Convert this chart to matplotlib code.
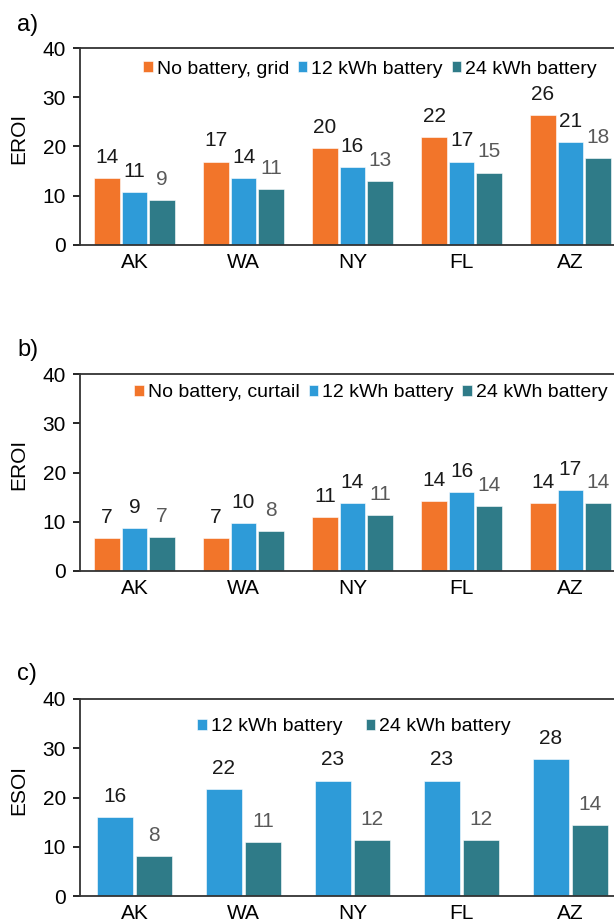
import numpy as np
import matplotlib
matplotlib.use("Agg")
import matplotlib.pyplot as plt
from matplotlib.patches import Patch

plt.rcParams['font.family'] = ['Liberation Sans', 'DejaVu Sans']

# data
states = ['AK', 'WA', 'NY', 'FL', 'AZ']

# a) EROI, no battery with grid
a_grid = [13.6, 16.9, 19.7, 21.9, 26.4]
a_12 = [10.8, 13.6, 15.8, 16.9, 20.9]
a_24 = [9.1, 11.3, 13.0, 14.7, 17.6]
a_grid_lab = ['14', '17', '20', '22', '26']
a_12_lab = ['11', '14', '16', '17', '21']
a_24_lab = ['9', '11', '13', '15', '18']

# b) EROI, no battery with curtailment
b_curt = [6.6, 6.6, 11.0, 14.2, 13.8]
b_12 = [8.7, 9.7, 13.8, 16.0, 16.4]
b_24 = [6.9, 8.1, 11.4, 13.2, 13.8]
b_curt_lab = ['7', '7', '11', '14', '14']
b_12_lab = ['9', '10', '14', '16', '17']
b_24_lab = ['7', '8', '11', '14', '14']

# c) ESOI
c_12 = [16.0, 21.7, 23.4, 23.4, 27.8]
c_24 = [8.1, 11.0, 11.4, 11.4, 14.4]
c_12_lab = ['16', '22', '23', '23', '28']
c_24_lab = ['8', '11', '12', '12', '14']

orange = '#F2752A'
blue = '#2E9BD8'
teal = '#2F7B88'
dark = '#1a1a1a'
grey = '#595959'

fig = plt.figure(figsize=(6.14, 9.22), dpi=100)

left, width, height = 80/614, 545/614, 197/922
tops = [48, 374, 699]
axes = [fig.add_axes([left, 1 - (t + 197)/922, width, height]) for t in tops]

x = np.arange(len(states))


def draw(ax, series, labels, colors, lab_colors, bw, step):
    n = len(series)
    offs = (np.arange(n) - (n - 1)/2) * step
    for vals, labs, col, lc, off in zip(series, labels, colors, lab_colors, offs):
        bars = ax.bar(x + off, vals, bw, color=col, edgecolor='white', linewidth=0.4)
        for b, t in zip(bars, labs):
            ax.annotate(t, (b.get_x() + b.get_width()/2, b.get_height()),
                        xytext=(0, 11), textcoords='offset points',
                        ha='center', va='baseline', fontsize=15, color=lc)
    ax.set_xlim(-0.5, len(states) - 0.5)
    ax.set_ylim(0, 40)
    ax.set_yticks([0, 10, 20, 30, 40])
    ax.set_xticks(x)
    ax.set_xticklabels(states, fontsize=15)
    ax.tick_params(axis='x', length=0, pad=6)
    ax.tick_params(axis='y', length=5, width=1.2, pad=5, labelsize=15)
    for s in ax.spines.values():
        s.set_linewidth(1.3)
        s.set_color('#333333')


draw(axes[0], [a_grid, a_12, a_24], [a_grid_lab, a_12_lab, a_24_lab],
     [orange, blue, teal], [dark, dark, grey], 0.23, 0.252)
draw(axes[1], [b_curt, b_12, b_24], [b_curt_lab, b_12_lab, b_24_lab],
     [orange, blue, teal], [dark, dark, grey], 0.23, 0.252)
draw(axes[2], [c_12, c_24], [c_12_lab, c_24_lab],
     [blue, teal], [dark, grey], 0.33, 0.358)

legend_specs = [
    (['No battery, grid', '12 kWh battery', '24 kWh battery'], [orange, blue, teal], (0.532, 0.893), 0.45),
    (['No battery, curtail', '12 kWh battery', '24 kWh battery'], [orange, blue, teal], (0.534, 0.904), 0.45),
    (['12 kWh battery', '24 kWh battery'], [blue, teal], (0.503, 0.858), 1.2),
]
for ax, (names, cols, anchor, cs) in zip(axes, legend_specs):
    handles = [Patch(facecolor=c, edgecolor='white', linewidth=0.4) for c in cols]
    ax.legend(handles, names, loc='center', bbox_to_anchor=anchor, ncol=len(names),
              frameon=False, fontsize=14, handlelength=0.5, handleheight=0.5,
              handletextpad=0.2, columnspacing=cs, borderpad=0, borderaxespad=0)

for ax, yl in zip(axes, ['EROI', 'EROI', 'ESOI']):
    ax.set_ylabel(yl, fontsize=15)
    ax.yaxis.set_label_coords(-0.095, 0.54)

for lab, ypix in zip(['a)', 'b)', 'c)'], [25, 350, 674]):
    fig.text(17/614, 1 - ypix/922, lab, fontsize=17, va='center', ha='left')

fig.savefig('out.png', dpi=100)
